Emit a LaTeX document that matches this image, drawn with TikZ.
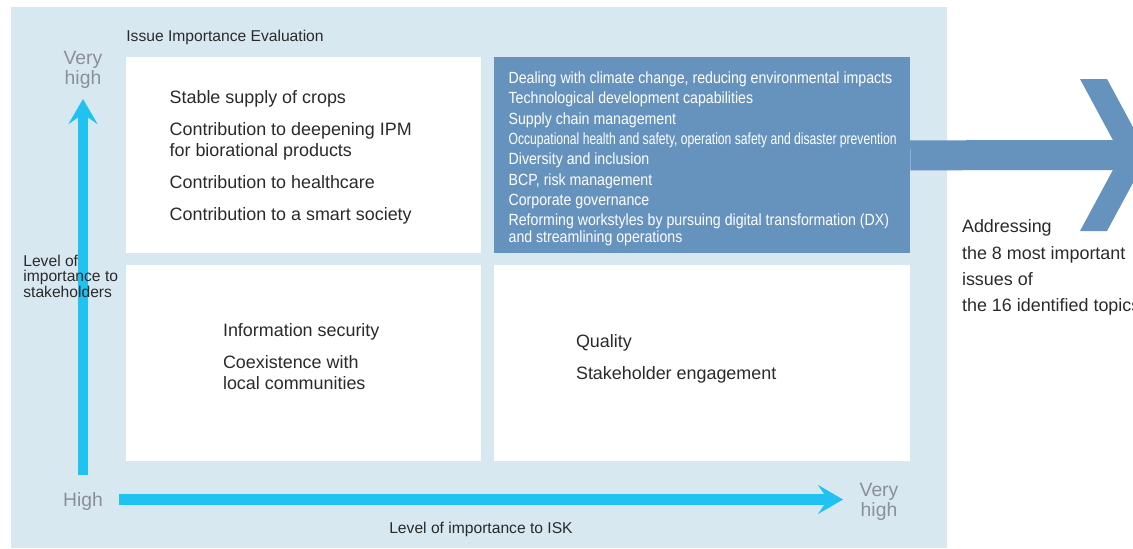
\documentclass[tikz,border=0pt]{standalone}
\usepackage{fontspec}
\setmainfont{Liberation Sans}
\newfontfamily\condfont[FakeStretch=0.875]{Liberation Sans}
\newfontfamily\narrowfont[FakeStretch=0.75]{Liberation Sans}
\usepackage{xcolor}
\usepackage{tikz}
\usetikzlibrary{arrows.meta, positioning}
\definecolor{paleblue}{RGB}{216,232,241}
\definecolor{steelblue}{RGB}{102,147,190}
\definecolor{axiscyan}{RGB}{31,194,241}
\definecolor{axisgray}{RGB}{138,143,153}
\definecolor{ink}{RGB}{42,42,42}

\begin{document}
\begin{tikzpicture}[
    x=0.02cm, y=-0.02cm,
    quad/.style={fill=white, inner sep=0pt, minimum height=3.92cm},
    items/.style={anchor=north west, inner sep=0pt, align=left, text=ink, font=\fontsize{10.2}{12.3}\selectfont},
    small/.style={inner sep=0pt, text=ink, font=\fontsize{8.9}{8.9}\selectfont},
    axlab/.style={inner sep=0pt, align=center, text=axisgray, font=\fontsize{11}{11.3}\selectfont},
    axis/.style={axiscyan, line width=0.22cm, -{Stealth[length=0.5cm, width=0.58cm, inset=0.2cm]}}
  ]
  \useasboundingbox (0,0) rectangle (1133,548);
  \clip (0,0) rectangle (1133,548);
  \fill[paleblue] (11,7) rectangle (947,548);

  \node[quad, minimum width=7.1cm, anchor=north west] (stakeq) at (126,57) {};
  \node[quad, minimum width=8.32cm, fill=steelblue, right=0.24cm of stakeq] (keyq) {};
  \node[quad, minimum width=7.1cm, below=0.22cm of stakeq] (localq) {};
  \node[quad, minimum width=8.32cm, below=0.22cm of keyq] (iskq) {};

  \coordinate (notch) at (1121,155);
  \draw[steelblue, line width=0.6cm] (keyq.east) -- (notch);
  \fill[steelblue] (1080,79) -- (1107,79) -- (1148,155) -- (1107,231) -- (1080,231) -- (notch) -- cycle;

  \coordinate (yfoot) at (83,475);
  \coordinate (ytip) at (83,99);
  \coordinate (xfoot) at (119,499.5);
  \coordinate (xtip) at (843,499.5);
  \draw[axis] (yfoot) -- (ytip);
  \draw[axis] (xfoot) -- (xtip);

  \node[small, anchor=base west] (title) at (126,41.7) {Issue Importance Evaluation};
  \node[axlab] (vhy) at (83,70) {Very\\high};
  \node[axlab, anchor=base] (high) at (83,506.7) {High};
  \node[axlab] (vhx) at (879,501.6) {Very\\high};
  \node[small, anchor=north west, align=left] (stakelab) at (23,254.5) {Level of\\importance to\\stakeholders};
  \node[small, anchor=base] (isklab) at (481,533.3) {Level of importance to ISK};

  \node[items] (stakeitems) at (169.3,90.3) {Stable supply of crops\\[5.7pt]Contribution to deepening IPM\\for biorational products\\[5.7pt]Contribution to healthcare\\[5.7pt]Contribution to a smart society};
  \node[items] (localitems) at (222.7,323.5) {Information security\\[5.6pt]Coexistence with\\local communities};
  \node[items] (iskitems) at (575.7,334.5) {Quality\\[5.6pt]Stakeholder engagement};
  \node[anchor=north west, inner sep=0pt, align=left, text=white, font=\condfont\fontsize{9.2}{11.55}\selectfont] (keyitems) at (508.3,71.6) {Dealing with climate change, reducing environmental impacts\\Technological development capabilities\\Supply chain management\\{\narrowfont Occupational health and safety, operation safety and disaster prevention}\\Diversity and inclusion\\BCP, risk management\\Corporate governance\\Reforming workstyles by pursuing digital transformation (DX)\\[-2.2pt]and streamlining operations};
  \node[items, font=\fontsize{10.2}{15}\selectfont] (outcome) at (961.7,219.5) {Addressing\\the 8 most important\\issues of\\the 16 identified topics};
\end{tikzpicture}
\end{document}
